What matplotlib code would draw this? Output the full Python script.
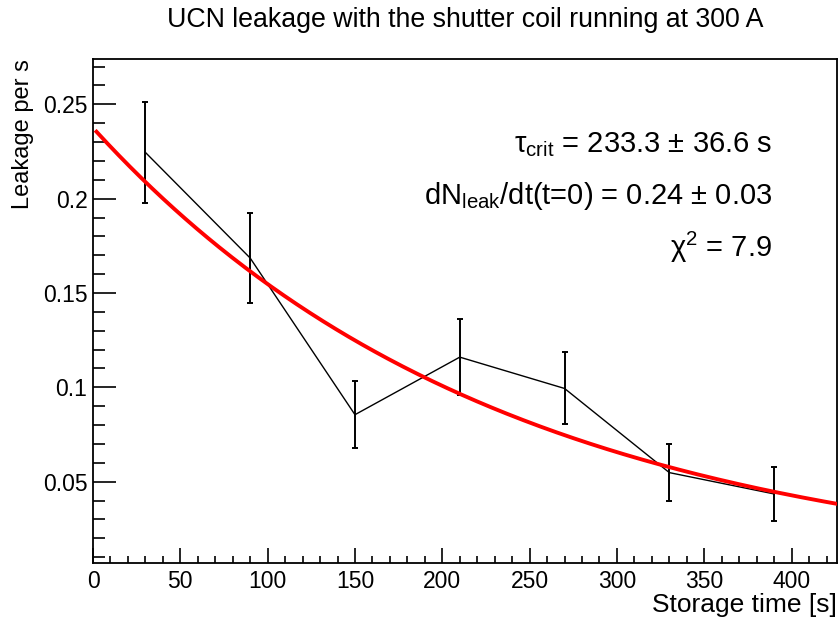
import numpy as np
import matplotlib
matplotlib.use("Agg")
import matplotlib.pyplot as plt
from matplotlib.ticker import MultipleLocator

plt.rcParams['font.family'] = ['Liberation Sans', 'DejaVu Sans']
plt.rcParams['mathtext.fontset'] = 'custom'
plt.rcParams['mathtext.rm'] = 'Liberation Sans'
plt.rcParams['mathtext.it'] = 'Liberation Sans:italic'
plt.rcParams['mathtext.default'] = 'regular'

# data
storage_time = [30, 90, 150, 210, 270, 330, 390]
leakage = [0.2245, 0.1685, 0.0855, 0.1160, 0.0994, 0.0548, 0.0435]
leakage_err = [0.0268, 0.0237, 0.0179, 0.0200, 0.0191, 0.0152, 0.0144]

# fit parameters
fit_tau = 233.3
fit_amp = 0.2375
fit_tmin, fit_tmax = 2.0, 426.0

title = "UCN leakage with the shutter coil running at 300 A"
xlabel = "Storage time [s]"
ylabel = "Leakage per s"
annot = [r"$\tau_{crit}$ = 233.3 ± 36.6 s",
         r"dN$_{leak}$/dt(t=0) = 0.24 ± 0.03",
         r"$\chi^{2}$ = 7.9"]

fig = plt.figure(figsize=(8.4, 6.26), dpi=100)
ax = fig.add_axes([93/840, 1-563/626, (837-93)/840, (563-59)/626])

ax.errorbar(storage_time, leakage, yerr=leakage_err, color='black', lw=1.0,
            elinewidth=1.4, capsize=2.5, capthick=1.4, zorder=2)

t = np.linspace(fit_tmin, fit_tmax, 400)
ax.plot(t, fit_amp*np.exp(-t/fit_tau), color='#ff0000', lw=2.8, zorder=3)

ax.set_xlim(0, 426)
ax.set_ylim(0.0069, 0.274)
ax.xaxis.set_major_locator(MultipleLocator(50))
ax.xaxis.set_minor_locator(MultipleLocator(10))
ax.yaxis.set_major_locator(MultipleLocator(0.05))
ax.yaxis.set_minor_locator(MultipleLocator(0.01))
ax.yaxis.set_major_formatter(plt.FuncFormatter(lambda v, p: f"{v:g}"))
ax.tick_params(axis='both', which='both', direction='in', top=False, right=False,
               labelsize=16.5, colors='black', width=1.2)
ax.tick_params(axis='y', which='major', length=16.5, pad=4)
ax.tick_params(axis='y', which='minor', length=8.5)
ax.tick_params(axis='x', which='major', length=10.8, pad=5)
ax.tick_params(axis='x', which='minor', length=5.4)
for s in ax.spines.values():
    s.set_linewidth(1.3)

ax.set_xlabel(xlabel, fontsize=19, loc='right', labelpad=0)
ax.set_ylabel(ylabel, fontsize=17, loc='top', labelpad=6)

fig.text(465/840, 1-27/626, title, ha='center', va='baseline', fontsize=19.3)

for s, yb in zip(annot, [152, 204, 257]):
    ax.text(772/840, 1-yb/626, s, transform=fig.transFigure, ha='right',
            va='baseline', fontsize=21)

fig.savefig("out.png", dpi=100)
